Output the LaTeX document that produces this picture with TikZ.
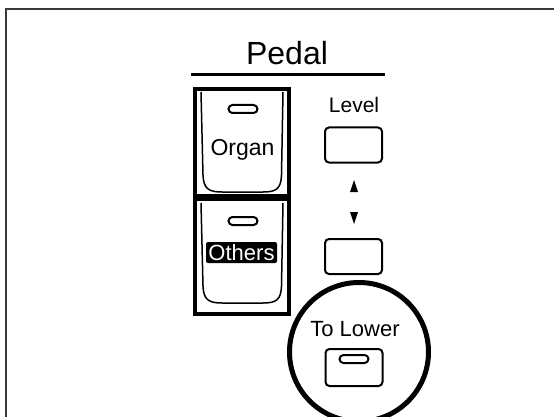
\documentclass[tikz,border=0pt]{standalone}
\usepackage{fontspec}
\setmainfont{Liberation Sans}
\definecolor{panelink}{HTML}{000000}
\definecolor{panelrule}{HTML}{3A3A3A}
\definecolor{panelpaper}{HTML}{FFFFFF}

\begin{document}
\begin{tikzpicture}[x=1pt, y=-1pt,
  btnbox/.style={draw=panelink, line width=2pt, rounded corners=4pt,
    minimum width=57pt, minimum height=35pt, inner sep=0pt},
  slotbox/.style={draw=panelink, line width=2pt, rounded corners=4pt,
    minimum width=29pt, minimum height=8pt, inner sep=0pt},
  paneltext/.style={text=panelink, inner sep=0pt}]
  \useasboundingbox (0,0) rectangle (554,417);
  % page frame, cut at right and bottom
  \draw[panelrule, line width=2pt] (6,417) -- (6,9) -- (554,9);

  % section title
  \node[paneltext, anchor=base, font=\fontsize{32}{38}\selectfont]
    (pedal) at (287,65) {Pedal};
  \draw[panelink, line width=3pt] (191,75) -- (385,75);

  % tablet frame
  \draw[panelink, line width=4pt] (195,89) rectangle (289,314);
  \fill[panelink] (193,194) rectangle (291,201);
  \foreach \dy in {0,111} {
    \begin{scope}[shift={(0,\dy)}]
      \draw[panelink, line width=1.5pt] (201,92) -- (203,175)
        .. controls (203.5,189) and (209,192) .. (222,192) -- (263,192)
        .. controls (276,192) and (281,189) .. (281.5,175) -- (283,92);
    \end{scope}
  }
  \node[slotbox] (organslot) at (243,109) {};
  \node[paneltext, anchor=base, font=\fontsize{23}{27}\selectfont]
    (organ) at (242.5,155) {Organ};
  \node[slotbox] (othersslot) at (243,221) {};
  \node[fill=panelink, text=panelpaper, rounded corners=2pt, inner sep=0pt,
    minimum width=71pt, minimum height=21pt, font=\fontsize{22}{26}\selectfont]
    (others) at (241.5,252.5) {Others};

  % level buttons
  \node[paneltext, anchor=base, font=\fontsize{21}{25}\selectfont]
    (level) at (354,113) {Level};
  \node[btnbox] (levelup) at (353.5,145) {};
  \fill[panelink] (350,192) -- (358,192) -- (354,180) -- cycle;
  \fill[panelink] (350,212) -- (358,212) -- (354,224) -- cycle;
  \node[btnbox] (leveldown) at (353.5,256.5) {};

  % highlighted button
  \draw[panelink, line width=5pt] (359,352) circle (69.5);
  \node[paneltext, anchor=base, font=\fontsize{22}{26}\selectfont]
    (tolower) at (355,336) {To Lower};
  \node[btnbox, minimum height=37pt] (lowerbtn) at (354,367.5) {};
  \node[slotbox] (lowerslot) at (354,359) {};
\end{tikzpicture}
\end{document}
